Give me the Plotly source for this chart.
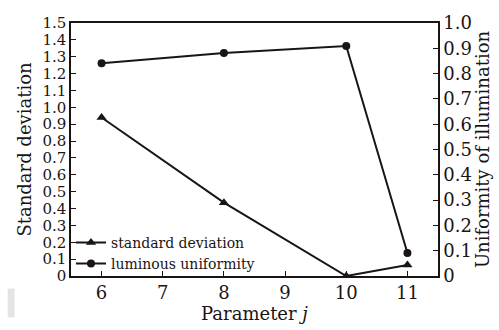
import plotly.graph_objects as go

# Parameter j values and measured quantities
param_j = [6, 8, 10, 11]
std_dev = [0.94, 0.435, 0.0, 0.065]
uniformity = [0.841, 0.881, 0.909, 0.091]

left_ticks = [round(0.1 * i, 1) for i in range(16)]
left_labels = ["0"] + [f"{v:.1f}" for v in left_ticks[1:]]
right_ticks = [round(0.1 * i, 1) for i in range(11)]
right_labels = ["0"] + [f"{v:.1f}" for v in right_ticks[1:]]
x_ticks = [6, 7, 8, 9, 10, 11]

FONT = "DejaVu Serif"
INK = "#1a1414"

fig = go.Figure()
fig.add_trace(go.Scatter(
    x=param_j, y=std_dev, name="standard deviation",
    mode="lines+markers",
    line=dict(color=INK, width=2),
    marker=dict(symbol="triangle-up", size=9, color=INK),
))
fig.add_trace(go.Scatter(
    x=param_j, y=uniformity, name="luminous uniformity",
    mode="lines+markers", yaxis="y2",
    line=dict(color=INK, width=2),
    marker=dict(symbol="circle", size=8, color=INK),
))

axis_common = dict(
    showgrid=False, zeroline=False, showline=True, linecolor=INK, linewidth=1.5,
    ticks="inside", ticklen=5, tickcolor=INK, tickwidth=1.2,
)

PLOT_W = 499 - 71 - 57
PLOT_H = 330 - 21 - 46

fig.update_layout(
    width=499, height=330,
    margin=dict(l=71, r=57, t=21, b=46),
    paper_bgcolor="white", plot_bgcolor="white",
    showlegend=True,
    legend=dict(
        x=0.0, y=-0.015, xanchor="left", yanchor="bottom",
        bgcolor="rgba(0,0,0,0)", font=dict(family=FONT, size=14, color=INK),
        tracegroupgap=0, itemwidth=30,
    ),
    xaxis=dict(
        range=[5.5, 11.5], tickvals=x_ticks, mirror=True,
        tickfont=dict(family=FONT, size=18, color=INK),
        title=dict(text="Parameter <i>j</i>", font=dict(family=FONT, size=18, color=INK), standoff=2),
        **axis_common,
    ),
    yaxis=dict(
        range=[0, 1.5], tickvals=left_ticks, ticktext=left_labels,
        tickfont=dict(family=FONT, size=15, color=INK),
        title=dict(text="Standard deviation", font=dict(family=FONT, size=18, color=INK), standoff=6),
        **axis_common,
    ),
    yaxis2=dict(
        range=[0, 1.0], tickvals=right_ticks, ticktext=right_labels,
        overlaying="y", side="right",
        tickfont=dict(family=FONT, size=18, color=INK),
        title=dict(text="Uniformity of illumination", font=dict(family=FONT, size=18, color=INK), standoff=2),
        **axis_common,
    ),
    shapes=[dict(
        type="rect", xref="paper", yref="paper", layer="below",
        x0=-64 / PLOT_W, x1=-57 / PLOT_W, y0=-43 / PLOT_H, y1=-13 / PLOT_H,
        fillcolor="#e4e4e4", line=dict(width=0),
    )],
)

fig.write_html("out.html")
